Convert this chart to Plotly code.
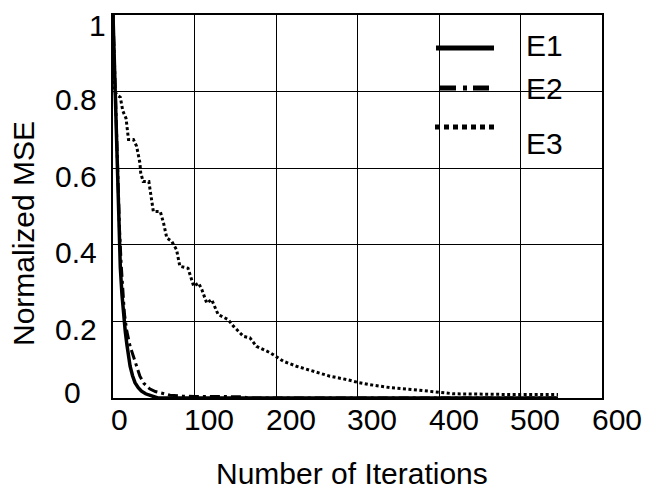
import plotly.graph_objects as go

# ---- data: normalized MSE versus iteration count ----
iter_e1 = [0, 1, 2, 3, 4, 5, 6, 7, 8, 9, 11, 13, 15, 17, 19, 21, 24, 27, 31, 35, 40, 45, 50, 55, 546]
mse_e1 = [1.0, 0.92, 0.84, 0.76, 0.68, 0.60, 0.52, 0.46, 0.40, 0.34, 0.27, 0.215, 0.175, 0.14, 0.11,
          0.083, 0.058, 0.040, 0.027, 0.018, 0.011, 0.007, 0.004, 0.0, 0.0]

iter_e2 = [0, 2, 4, 6, 8, 10, 12, 14, 17, 21, 25, 29, 33, 38, 45, 52, 60, 70, 85, 100, 130, 160, 165, 546]
mse_e2 = [1.0, 0.85, 0.70, 0.56, 0.44, 0.35, 0.28, 0.22, 0.174, 0.135, 0.109, 0.08, 0.057, 0.038,
          0.024, 0.017, 0.013, 0.007, 0.005, 0.004, 0.004, 0.003, 0.0, 0.0]

iter_e3 = [0, 1, 2, 6, 9, 12, 16, 19, 25, 29, 33, 34, 37, 44, 47, 49.5, 58, 62, 66, 72, 78, 82, 92,
           98, 99, 105, 109, 115, 121, 129, 141, 148, 160, 168, 176, 193, 209, 225, 246, 266, 287,
           300, 315, 340, 368, 397, 418, 491, 546]
mse_e3 = [1.0, 0.90, 0.80, 0.79, 0.785, 0.75, 0.73, 0.675, 0.675, 0.657, 0.614, 0.588, 0.565, 0.565,
          0.526, 0.487, 0.487, 0.457, 0.418, 0.409, 0.387, 0.344, 0.339, 0.30, 0.292, 0.30, 0.283,
          0.248, 0.257, 0.218, 0.205, 0.187, 0.161, 0.157, 0.135, 0.118, 0.096, 0.083, 0.070, 0.057,
          0.048, 0.041, 0.035, 0.027, 0.022, 0.015, 0.011, 0.009, 0.009]

series_names = ["E1", "E2", "E3"]

x_tick_vals = [0, 100, 200, 300, 400, 500, 600]
x_tick_text = ["0", "100", "200", "300", "400", "500", "600"]
y_tick_vals = [0, 0.2, 0.4, 0.6, 0.8, 1.0]
y_tick_text = ["0", "0.2", "0.4", "0.6", "0.8", "1"]

x_title = "Number of Iterations"
y_title = "Normalized MSE"

# ---- layout geometry (pixels) ----
W, H = 645, 492
L, R, T, B = 113, 43, 15, 94
PW, PH = W - L - R, H - T - B
FONT = "Liberation Sans, Arial, sans-serif"
FS = 30


def px_x(px):
    return (px - L) / PW


def px_y(py):
    return 1 - (py - T) / PH


line_styles = {
    "E1": dict(color="black", width=3.5, dash="solid"),
    "E2": dict(color="black", width=3, dash="10px,4px,3px,4px"),
    "E3": dict(color="black", width=3, dash="3px,2.5px"),
}
legend_styles = {
    "E1": dict(color="black", width=5, dash="solid"),
    "E2": dict(color="black", width=5, dash="16px,7px,4px,6px"),
    "E3": dict(color="black", width=5, dash="5px,4px"),
}
# legend sample segments (x0, x1, y) and label anchor (x, y) in pixels
legend_pos = {
    "E1": ((436, 494, 48), (524, 46)),
    "E2": ((440, 491, 88), (524, 89)),
    "E3": ((435, 494, 127), (524, 143)),
}

fig = go.Figure()
for name, xs, ys in [("E3", iter_e3, mse_e3), ("E2", iter_e2, mse_e2), ("E1", iter_e1, mse_e1)]:
    fig.add_trace(go.Scatter(x=xs, y=ys, mode="lines", name=name,
                             line=line_styles[name], showlegend=False))

shapes = []
annotations = []

# hand-placed legend
for name in series_names:
    (x0, x1, yl), (tx, ty) = legend_pos[name]
    shapes.append(dict(type="line", xref="paper", yref="paper",
                       x0=px_x(x0), x1=px_x(x1), y0=px_y(yl), y1=px_y(yl),
                       line=legend_styles[name]))
    annotations.append(dict(text=name, xref="paper", yref="paper", x=px_x(tx), y=px_y(ty),
                            xanchor="left", yanchor="middle", showarrow=False,
                            font=dict(family=FONT, size=FS, color="black")))

# x tick labels
for v, t in zip(x_tick_vals, x_tick_text):
    shift = 6 if len(t) == 1 else 14.5
    annotations.append(dict(text=t, xref="x", yref="paper", x=v, y=0, xshift=shift, yshift=-21,
                            xanchor="center", yanchor="middle", showarrow=False,
                            font=dict(family=FONT, size=FS, color="black")))

# y tick labels: (right-edge offset from axis, vertical offset) in pixels
y_label_offsets = {"0": (-30, 6), "1": (-5, -10)}
for v, t in zip(y_tick_vals, y_tick_text):
    dx, dy = y_label_offsets.get(t, (-14, -8))
    annotations.append(dict(text=t, xref="paper", yref="y", x=0, y=v, xshift=dx, yshift=dy,
                            xanchor="right", yanchor="middle", showarrow=False,
                            font=dict(family=FONT, size=FS, color="black")))

# axis titles
annotations.append(dict(text=x_title, xref="paper", yref="paper", x=px_x(352), y=px_y(473),
                        xanchor="center", yanchor="middle", showarrow=False,
                        font=dict(family=FONT, size=FS, color="black")))
annotations.append(dict(text=y_title, xref="paper", yref="paper", x=px_x(23), y=px_y(234),
                        xanchor="center", yanchor="middle", showarrow=False, textangle=-90,
                        font=dict(family=FONT, size=FS, color="black")))

axis_common = dict(showgrid=True, gridcolor="black", gridwidth=1, zeroline=False,
                   showline=True, linecolor="black", linewidth=2, mirror=True,
                   ticks="", showticklabels=False)

fig.update_layout(
    width=W, height=H,
    margin=dict(l=L, r=R, t=T, b=B, pad=0),
    paper_bgcolor="white", plot_bgcolor="white",
    xaxis=dict(range=[0, 600], tickvals=x_tick_vals, **axis_common),
    yaxis=dict(range=[0, 1], tickvals=y_tick_vals, **axis_common),
    shapes=shapes, annotations=annotations,
    showlegend=False,
)

fig.write_html("out.html")
